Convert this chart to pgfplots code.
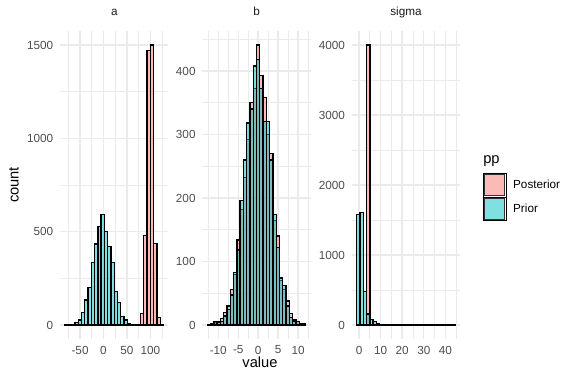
\documentclass[border=0pt]{standalone}
\usepackage{fontspec}
\setmainfont{Liberation Sans}
\usepackage{pgfplots}
\pgfplotsset{compat=1.18}
\definecolor{post}{HTML}{F8766D}
\definecolor{prior}{HTML}{00BFC4}
\definecolor{grid92}{HTML}{EBEBEB}
\definecolor{grey30}{HTML}{4D4D4D}
\definecolor{grey10}{HTML}{1A1A1A}
\pgfplotsset{
  facet/.style={
    scale only axis, width=81.2pt, height=231pt, anchor=south west,
    axis line style={draw=none},
    major tick length=0pt, minor tick length=0pt,
    xmajorgrids, ymajorgrids, xminorgrids, yminorgrids,
    major grid style={grid92, line width=1.07pt},
    minor grid style={grid92, line width=0.53pt},
    tick label style={font=\fontsize{8.8}{10}\selectfont, text=grey30, inner sep=0pt},
    yticklabel style={anchor=east, xshift=-4.95pt},
    xticklabel style={anchor=north, yshift=-4.95pt},
    title style={at={(0.5,1)}, anchor=base, yshift=5.25pt, inner sep=0pt,
      font=\fontsize{8.8}{10}\selectfont, text=grey10},
  },
  hbar/.style={ybar interval, draw=black, line width=1.0pt, fill opacity=0.5, draw opacity=1, forget plot},
}
\begin{document}
\begin{tikzpicture}
\path (0pt,0pt) rectangle (432pt,288pt);
% ---------- panel a ----------
\begin{axis}[facet, at={(45.1pt,33.75pt)}, title=a,
  xmin=-92.5, xmax=138.5, ymin=-75, ymax=1575,
  xtick={-50,0,50,100}, xticklabels={-50,0,50,100},
  minor xtick={-75,-25,25,75,125},
  ytick={0,500,1000,1500}, yticklabels={0,500,1000,1500},
  minor ytick={250,750,1250}]
\addplot[hbar, fill=post] table {
x y
-82 0
-75 0
-68 0
-61 0
-54 0
-47 0
-40 0
-33 0
-26 0
-19 0
-12 0
-5 0
2 0
9 0
16 0
23 0
30 0
37 0
44 0
51 0
58 0
65 0
72 0
79 63
86 478
93 1470
100 1500
107 437
114 41
121 2
128 0
};
\addplot[hbar, fill=prior] table {
x y
-82 1
-75 2
-68 4
-61 12
-54 27
-47 66
-40 134
-33 202
-26 336
-19 434
-12 527
-5 593
2 500
9 420
16 336
23 179
30 121
37 45
44 27
51 9
58 4
65 1
72 0
79 0
86 0
93 0
100 0
107 0
114 0
121 0
128 0
};
\end{axis}
% ---------- panel b ----------
\begin{axis}[facet, at={(151.8pt,33.75pt)}, title=b,
  xmin=-13.98, xmax=13.14, ymin=-22.05, ymax=463.05,
  xtick={-10,-5,0,5,10}, xticklabels={-10,-5,0,5,10},
  minor xtick={-12.5,-7.5,-2.5,2.5,7.5,12.5},
  ytick={0,100,200,300,400}, yticklabels={0,100,200,300,400},
  minor ytick={50,150,250,350,450}]
\addplot[hbar, fill=post] table {
x y
-12.75 1
-11.928 2
-11.106 4
-10.284 5
-9.462 10
-8.64 20
-7.818 30
-6.996 56
-6.174 80
-5.352 134
-4.53 182
-3.708 232
-2.886 292
-2.064 350
-1.242 372
-0.42 441
0.402 393
1.224 358
2.046 300
2.868 270
3.69 165
4.512 140
5.334 70
6.156 56
6.978 38
7.8 18
8.622 8
9.444 5
10.266 2
11.088 1
11.91 0
};
\addplot[hbar, fill=prior] table {
x y
-12.75 1
-11.928 1
-11.106 5
-10.284 4
-9.462 6
-8.64 14
-7.818 24
-6.996 47
-6.174 83
-5.352 118
-4.53 196
-3.708 260
-2.886 318
-2.064 340
-1.242 408
-0.42 418
0.402 372
1.224 320
2.046 321
2.868 260
3.69 174
4.512 122
5.334 74
6.156 62
6.978 30
7.8 12
8.622 5
9.444 5
10.266 1
11.088 2
11.91 0
};
\end{axis}
% ---------- panel sigma ----------
\begin{axis}[facet, at={(263.85pt,33.75pt)}, title=sigma,
  xmin=-3.35, xmax=46.81, ymin=-200, ymax=4200,
  xtick={0,10,20,30,40}, xticklabels={0,10,20,30,40},
  minor xtick={5,15,25,35,45},
  ytick={0,1000,2000,3000,4000}, yticklabels={0,1000,2000,3000,4000},
  minor ytick={500,1500,2500,3500},
  legend cell align=left,
  legend style={at={(1.2075,0.5374)}, anchor=north west, draw=none, fill=none,
    inner sep=0pt, outer sep=0pt, row sep=0pt,
    nodes={inner sep=0pt, font=\fontsize{8.8}{10}\selectfont, text=black},
    /tikz/every odd column/.append style={column sep=5.3pt}}]
\addplot[hbar, fill=post] table {
x y
-1.07 0
0.45 0
1.97 0
3.49 4000
5.01 0
6.53 0
8.05 0
9.57 0
11.09 0
12.61 0
14.13 0
15.65 0
17.17 0
18.69 0
20.21 0
21.73 0
23.25 0
24.77 0
26.29 0
27.81 0
29.33 0
30.85 0
32.37 0
33.89 0
35.41 0
36.93 0
38.45 0
39.97 0
41.49 0
43.01 0
44.53 0
};
\addplot[hbar, fill=prior] table {
x y
-1.07 1575
0.45 1610
1.97 476
3.49 157
5.01 81
6.53 48
8.05 19
9.57 10
11.09 6
12.61 5
14.13 3
15.65 2
17.17 2
18.69 1
20.21 1
21.73 1
23.25 0
24.77 1
26.29 0
27.81 0
29.33 0
30.85 0
32.37 0
33.89 0
35.41 0
36.93 0
38.45 0
39.97 0
41.49 0
43.01 1
44.53 0
};
\addlegendimage{legend image code/.code={
  \path (0pt,-8.64pt) rectangle (17.28pt,8.64pt);
  \draw[black!80, line width=0.7pt, fill=post, fill opacity=0.5, draw opacity=1] (1pt,-7.9pt) rectangle (16.28pt,7.9pt);}}
\addlegendentry{Posterior}
\addlegendimage{legend image code/.code={
  \path (0pt,-8.64pt) rectangle (17.28pt,8.64pt);
  \draw[black!80, line width=0.7pt, fill=prior, fill opacity=0.5, draw opacity=1] (1pt,-7.9pt) rectangle (16.28pt,7.9pt);}}
\addlegendentry{Prior}
\end{axis}
\node[anchor=base west, font=\fontsize{11}{13}\selectfont, inner sep=0pt] at (362.25pt,165pt) {pp};
\node[anchor=base, font=\fontsize{11}{13}\selectfont, inner sep=0pt] at (195pt,12pt) {value};
\node[rotate=90, anchor=base, font=\fontsize{11}{13}\selectfont, inner sep=0pt] at (14pt,149.25pt) {count};
\end{tikzpicture}
\end{document}
